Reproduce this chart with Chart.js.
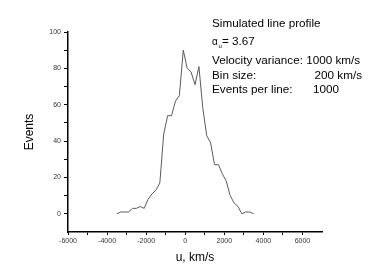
<!DOCTYPE html>
<html lang="en">
<head>
    <meta charset="UTF-8">
    <title>Simulated line profile</title>
    <script src="https://cdn.jsdelivr.net/npm/chart.js"></script>
    <style>
        html, body { margin: 0; padding: 0; background: #fff; }
        #profileChart { display: block; }
    </style>
</head>
<body>
    <canvas id="profileChart" width="374" height="279"></canvas>

    <script>
        // bin centres (km/s) and counts per bin
        const velocities = [-3500, -3300, -3100, -2900, -2700, -2500, -2300, -2100, -1900, -1700, -1500, -1300,
                            -1100, -900, -700, -500, -300, -100, 100, 300, 500, 700, 900, 1100,
                            1300, 1500, 1700, 1900, 2100, 2300, 2500, 2700, 2900, 3100, 3300, 3500];
        const events = [0, 1, 1, 1, 3, 3, 4, 3, 8, 11, 13, 17,
                        44, 54, 54, 62, 65, 90, 80, 78, 71, 81, 58, 43,
                        39, 27, 27, 22, 18, 10, 6, 4, 0, 1, 1, 0];
        const xTickLabels = [-6000, -4000, -2000, 0, 2000, 4000, 6000];
        const yTickLabels = [0, 20, 40, 60, 80, 100];

        const points = velocities.map((v, i) => ({ x: v, y: events[i] }));

        const FONT = '"Liberation Sans", Arial, sans-serif';

        // text block in the upper right
        const infoText = {
            id: 'infoText',
            afterDraw(chart) {
                const ctx = chart.ctx;
                ctx.save();
                ctx.fillStyle = '#000';
                ctx.textBaseline = 'middle';
                ctx.textAlign = 'left';
                ctx.font = '11.7px ' + FONT;
                const x0 = 212;
                ctx.fillText('Simulated line profile', x0, 24);

                ctx.font = '10px ' + FONT;
                ctx.fillText('\u03B1', x0, 42);
                ctx.font = '6px ' + FONT;
                ctx.fillText('u', x0 + 6.5, 46);
                ctx.font = '11.7px ' + FONT;
                ctx.fillText('= 3.67', x0 + 10, 42);

                ctx.fillText('Velocity variance: 1000 km/s', x0, 61);
                ctx.fillText('Bin size:', x0, 75.5);
                ctx.textAlign = 'right';
                ctx.fillText('200 km/s', 362, 75.5);
                ctx.textAlign = 'left';
                ctx.fillText('Events per line:', x0, 89.5);
                ctx.fillText('1000', 313, 89.5);
                ctx.restore();
            }
        };

        new Chart(document.getElementById('profileChart'), {
            type: 'scatter',
            data: {
                datasets: [{
                    data: points,
                    showLine: true,
                    borderColor: '#5a5a5a',
                    borderWidth: 1,
                    pointRadius: 0,
                    tension: 0
                }]
            },
            options: {
                responsive: false,
                animation: false,
                layout: { padding: { top: 32, right: 52, left: 0, bottom: 0 } },
                plugins: {
                    legend: { display: false },
                    tooltip: { enabled: false }
                },
                scales: {
                    x: {
                        type: 'linear',
                        min: -6000,
                        max: 7000,
                        afterFit: scale => { scale.height = 47; },
                        ticks: {
                            stepSize: 1000,
                            autoSkip: false,
                            maxRotation: 0,
                            padding: 2,
                            color: '#333',
                            font: { family: FONT, size: 7 },
                            callback: v => xTickLabels.includes(v) ? String(v) : ''
                        },
                        grid: {
                            drawOnChartArea: false,
                            drawTicks: true,
                            tickLength: 3,
                            tickColor: c => (c.tick && c.tick.value === 7000) ? 'rgba(0,0,0,0)' : '#000'
                        },
                        border: { color: '#000', width: 1.5 },
                        title: {
                            display: true,
                            text: 'u, km/s',
                            color: '#000',
                            font: { family: FONT, size: 12 },
                            padding: { top: 0, bottom: 14 }
                        }
                    },
                    y: {
                        min: -10,
                        max: 100,
                        afterFit: scale => { scale.width = 68; },
                        ticks: {
                            stepSize: 10,
                            autoSkip: false,
                            padding: 3,
                            color: '#333',
                            font: { family: FONT, size: 7 },
                            callback: v => yTickLabels.includes(v) ? String(v) : ''
                        },
                        grid: {
                            drawOnChartArea: false,
                            drawTicks: true,
                            tickLength: 4,
                            tickColor: c => (c.tick && c.tick.value === -10) ? 'rgba(0,0,0,0)' : '#000'
                        },
                        border: { color: '#000', width: 1.5 },
                        title: {
                            display: true,
                            text: 'Events',
                            color: '#000',
                            font: { family: FONT, size: 12 },
                            padding: { top: 22, bottom: 0 }
                        }
                    }
                }
            },
            plugins: [infoText]
        });
    </script>
</body>
</html>
